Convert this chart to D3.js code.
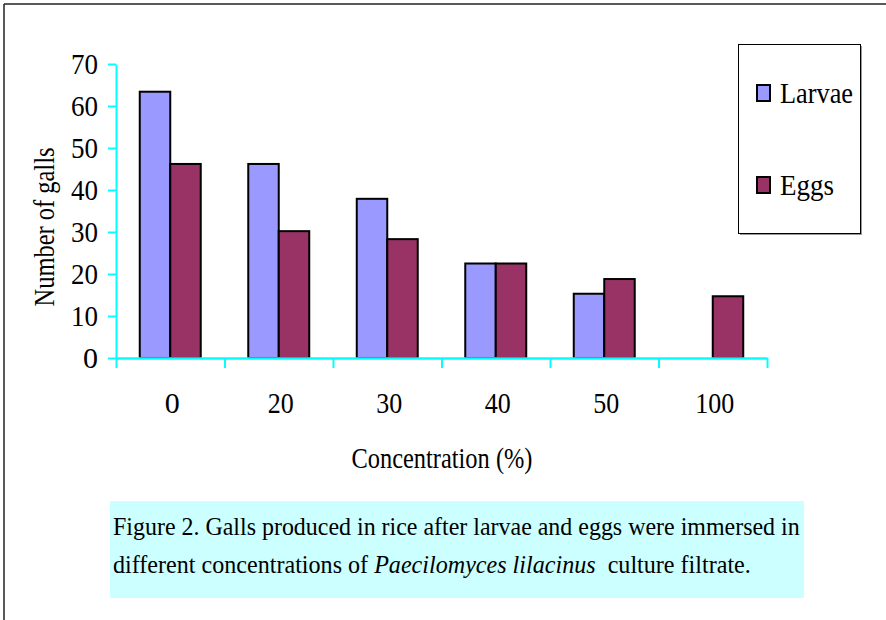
<!DOCTYPE html>
<html>
<head>
<meta charset="utf-8">
<script src="https://cdn.jsdelivr.net/npm/d3@7"></script>
<style>
  html, body { margin: 0; padding: 0; background: #fff; }
  svg { display: block; }
</style>
</head>
<body>
<script>
// ---- Data ----
const categories = ["0", "20", "30", "40", "50", "100"];
const seriesNames = ["Larvae", "Eggs"];
const larvae = [63.4, 46.2, 37.9, 22.5, 15.3, 0];
const eggs = [46.2, 30.2, 28.3, 22.5, 18.8, 14.7];
const yTicks = [0, 10, 20, 30, 40, 50, 60, 70];
const xTitle = "Concentration (%)";
const yTitle = "Number of galls";
const captionLine1 = "Figure 2. Galls produced in rice after larvae and eggs were immersed in";
const captionLine2 = [
  { t: "different concentrations of ", italic: false },
  { t: "Paecilomyces lilacinus", italic: true },
  { t: "  culture filtrate.", italic: false }
];

// ---- Layout ----
const W = 886, H = 620;
const plot = { left: 116, right: 767, top: 64, bottom: 358 };
const colors = { Larvae: "#9999FF", Eggs: "#993366" };
const FONT = "Liberation Serif";

const svg = d3.select("body").append("svg").attr("width", W).attr("height", H);

// Outer frame (top + left)
svg.append("line").attr("x1", 4).attr("x2", W).attr("y1", 4).attr("y2", 4)
  .attr("stroke", "#222").attr("stroke-width", 1.5);
svg.append("line").attr("x1", 4).attr("x2", 4).attr("y1", 4).attr("y2", H)
  .attr("stroke", "#222").attr("stroke-width", 1.5);

// Scales
const x0 = d3.scaleBand().domain(categories).range([plot.left, plot.right])
  .paddingInner(0.438).paddingOuter(0.219);
const x1 = d3.scaleBand().domain(seriesNames).range([0, x0.bandwidth()]);
const y = d3.scaleLinear().domain([0, 70]).range([plot.bottom, plot.top]);

// helper: text fitted horizontally to a target width
function ftext(parent, x, yv, parts, size, anchor, targetW, rotate) {
  const g = parent.append("g");
  const t = g.append("text").attr("x", 0).attr("y", 0)
    .attr("font-family", FONT).attr("font-size", size).attr("fill", "#000")
    .attr("text-anchor", anchor || "start").style("white-space", "pre");
  if (typeof parts === "string") parts = [{ t: parts, italic: false }];
  parts.forEach(p => t.append("tspan").attr("font-style", p.italic ? "italic" : "normal").text(p.t));
  const w = t.node().getComputedTextLength();
  const s = targetW ? targetW / w : 0.9;
  g.attr("transform", `translate(${x},${yv})${rotate ? " rotate(" + rotate + ")" : ""} scale(${s},1)`);
  return g;
}

// Bars
const data = categories.map((c, i) => ({ c, Larvae: larvae[i], Eggs: eggs[i] }));
const groups = svg.append("g").selectAll("g").data(data).join("g")
  .attr("transform", d => `translate(${x0(d.c)},0)`);
groups.selectAll("rect")
  .data(d => seriesNames.map(k => ({ k, v: d[k] })).filter(e => e.v > 0))
  .join("rect")
  .attr("x", d => x1(d.k))
  .attr("y", d => y(d.v))
  .attr("width", x1.bandwidth())
  .attr("height", d => y(0) - y(d.v))
  .attr("fill", d => colors[d.k])
  .attr("stroke", "#000")
  .attr("stroke-width", 2);

// Y axis
const yAxis = d3.axisLeft(y).tickValues(yTicks).tickSize(8).tickSizeOuter(0).tickFormat("");
const yg = svg.append("g").attr("transform", `translate(${plot.left},0)`).call(yAxis);
yg.select(".domain").attr("stroke", "#00FFFF").attr("stroke-width", 2);
yg.selectAll(".tick line").attr("stroke", "#00FFFF").attr("stroke-width", 2);
yTicks.forEach(v => ftext(svg, 98, y(v) + 10, String(v), 30, "end", v === 0 ? 15 : 27));

// X axis: boundary ticks
const xb = d3.scaleLinear().domain([0, categories.length]).range([plot.left, plot.right]);
const xAxis = d3.axisBottom(xb).tickValues(d3.range(categories.length + 1)).tickSize(10)
  .tickSizeOuter(0).tickFormat("");
const xg = svg.append("g").attr("transform", `translate(0,${plot.bottom})`).call(xAxis);
xg.select(".domain").attr("stroke", "#00FFFF").attr("stroke-width", 2.5);
xg.selectAll(".tick line").attr("stroke", "#00FFFF").attr("stroke-width", 2);
categories.forEach(c => ftext(svg, x0(c) + x0.bandwidth() / 2 + 2, 413, c, 30, "middle",
  c.length === 1 ? 15 : c.length * 13));

// Axis titles
ftext(svg, 442, 468, xTitle, 29, "middle", 181);
ftext(svg, 54, 227, yTitle, 29, "middle", 159, -90);

// Legend
const lg = svg.append("g");
lg.append("rect").attr("x", 740).attr("y", 46).attr("width", 122).attr("height", 189).attr("fill", "#999");
lg.append("rect").attr("x", 738.5).attr("y", 44.5).attr("width", 122).attr("height", 189)
  .attr("fill", "#fff").attr("stroke", "#000").attr("stroke-width", 1);
const legendY = { Larvae: 85, Eggs: 177 };
const legendW = { Larvae: 73, Eggs: 54 };
seriesNames.forEach(k => {
  lg.append("rect").attr("x", 757).attr("y", legendY[k]).attr("width", 13).attr("height", 16)
    .attr("fill", colors[k]).attr("stroke", "#000").attr("stroke-width", 2);
  ftext(lg, 780, legendY[k] + 18, k, 30, "start", legendW[k]);
});

// Caption
svg.append("rect").attr("x", 110).attr("y", 501).attr("width", 694).attr("height", 97).attr("fill", "#CCFFFF");
ftext(svg, 113, 535, captionLine1, 25, "start", 687);
ftext(svg, 113, 573, captionLine2, 25, "start", 638);
</script>
</body>
</html>
